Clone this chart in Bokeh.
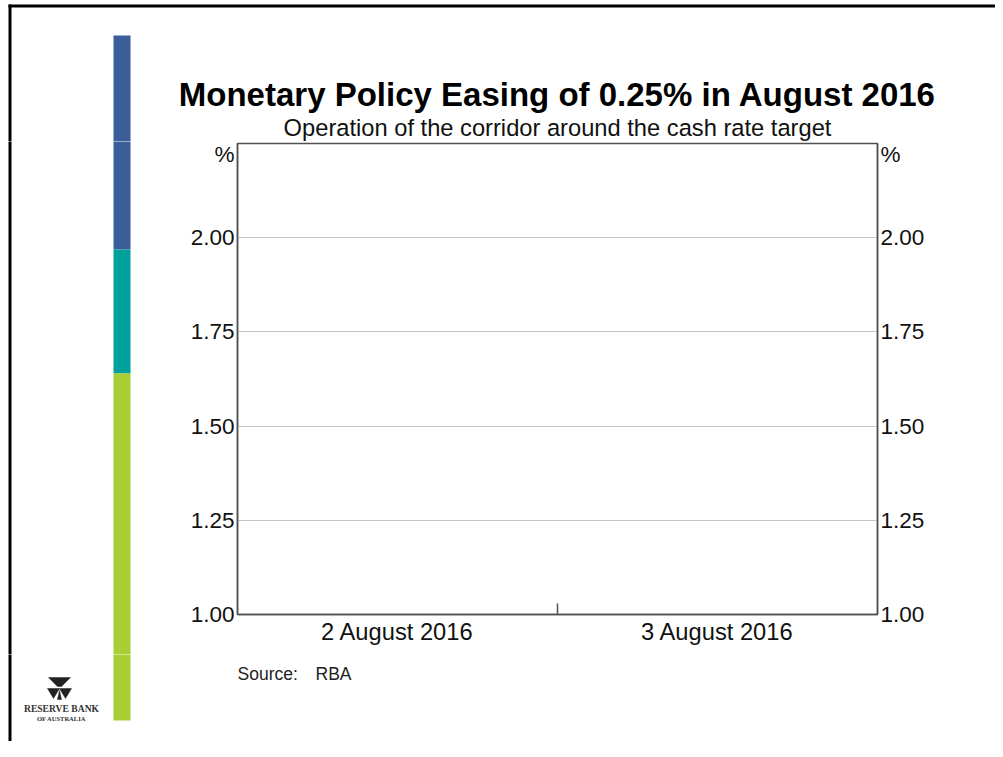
from bokeh.plotting import figure
from bokeh.layouts import column, row
from bokeh.models import Range1d, FixedTicker, LinearAxis, Label, BoxAnnotation
from bokeh.embed import file_html
from bokeh.resources import INLINE

# ---- data ----
categories = ["2 August 2016", "3 August 2016"]
y_ticks = [1.00, 1.25, 1.50, 1.75, 2.00]
y_tick_labels = ["1.00", "1.25", "1.50", "1.75", "2.00"]
y_min, y_max = 1.00, 2.25
unit_label = "%"
unit_label_pos = 2.22
title_text = "Monetary Policy Easing of 0.25% in August 2016"
subtitle_text = "Operation of the corridor around the cash rate target"
source_label = "Source:"
source_name = "RBA"

FONT = "Liberation Sans"
AXIS_COL = "#505050"
TXT_COL = "#111111"

# ---------------- page geometry (pixels) ----------------
PAGE_W = 995
TOP_H = 141
MID_H = 513
BOT_H = 87
LEFT_W = 150


def decor_fig(x0, y0, w, h):
    f = figure(width=w, height=h, output_backend="svg", toolbar_location=None,
               x_range=Range1d(x0, x0 + w), y_range=Range1d(y0 + h, y0),
               x_axis_location=None, y_axis_location=None, min_border=0)
    f.outline_line_color = None
    f.grid.visible = False
    f.background_fill_color = "white"
    f.border_fill_color = "white"
    return f


def add_box(f, l, r, t, b, col):
    f.add_layout(BoxAnnotation(left=l, right=r, top=t, bottom=b, fill_color=col,
                               fill_alpha=1.0, line_color=None, level="overlay"))


def add_label(f, x, y, text, size, align="left", bold=False, font=FONT, color=TXT_COL):
    f.add_layout(Label(x=x, y=y, text=text, text_font=font, text_font_size=size,
                       text_align=align, text_baseline="middle", text_color=color,
                       text_font_style="bold" if bold else "normal"))


def add_common_decor(f):
    # page frame lines
    add_box(f, 8, 1003, 4, 7, "black")
    add_box(f, 8, 11, 4, 760, "black")
    # vertical colour bar
    add_box(f, 113, 130, 35, 249, "#3B5E9B")
    add_box(f, 113, 130, 249, 373, "#00A19B")
    add_box(f, 113, 130, 373, 720, "#A7CF33")


# ---- top strip: title & subtitle ----
top = decor_fig(0, 0, PAGE_W, TOP_H)
add_common_decor(top)
add_label(top, 557, 94, title_text, "33px", align="center", bold=True, color="black")
add_label(top, 557, 127, subtitle_text, "23.7px", align="center")

# ---- left strip ----
left = decor_fig(0, TOP_H, LEFT_W, MID_H)
add_common_decor(left)

# ---- bottom strip: source & logo ----
bottom = decor_fig(0, TOP_H + MID_H, PAGE_W, BOT_H)
add_common_decor(bottom)
add_label(bottom, 237, 673, source_label, "17.5px", color="#222222")
add_label(bottom, 315, 673, source_name, "17.5px", color="#222222")
# logo mark
bottom.patches(xs=[[48, 70, 61, 57], [47, 53, 59], [71, 65, 59], [57, 61, 59]],
               ys=[[677, 677, 686, 686], [688, 698, 688], [688, 698, 688], [699, 699, 690]],
               fill_color="#222222", line_color="#222222", line_width=0.5)
add_label(bottom, 61, 708, "RESERVE BANK", "9.6px", align="center", font="Liberation Serif",
          color="#333333", bold=True)
add_label(bottom, 61, 718, "OF AUSTRALIA", "6.5px", align="center", font="Liberation Serif",
          color="#333333", bold=True)

# ---- main chart ----
p = figure(width=PAGE_W - LEFT_W, height=MID_H, output_backend="svg", toolbar_location=None,
           x_range=Range1d(0, len(categories)), y_range=Range1d(y_min, y_max),
           min_border_left=87, min_border_right=118, min_border_top=2,
           min_border_bottom=40)
p.outline_line_color = AXIS_COL
p.outline_line_width = 1.5
p.background_fill_color = "white"
p.border_fill_color = "white"

centres = [i + 0.5 for i in range(len(categories))]
xa = p.xaxis[0]
xa.ticker = FixedTicker(ticks=centres, minor_ticks=[float(i) for i in range(1, len(categories))])
xa.major_label_overrides = {c: lab for c, lab in zip(centres, categories)}
xa.major_tick_in = 0
xa.major_tick_out = 0
xa.minor_tick_in = 11
xa.minor_tick_out = 0
xa.minor_tick_line_color = AXIS_COL
xa.minor_tick_line_width = 1.5
xa.axis_line_color = AXIS_COL
xa.axis_line_width = 1.5
xa.major_label_text_font = FONT
xa.major_label_text_font_size = "23.7px"
xa.major_label_text_color = TXT_COL
xa.major_label_standoff = 4


def style_y(ax):
    ax.ticker = FixedTicker(ticks=y_ticks + [unit_label_pos])
    overrides = {t: l for t, l in zip(y_ticks, y_tick_labels)}
    overrides[unit_label_pos] = unit_label
    ax.major_label_overrides = overrides
    ax.major_tick_in = 0
    ax.major_tick_out = 0
    ax.minor_tick_in = 0
    ax.minor_tick_out = 0
    ax.axis_line_color = AXIS_COL
    ax.axis_line_width = 1.5
    ax.major_label_text_font = FONT
    ax.major_label_text_font_size = "22.5px"
    ax.major_label_text_color = TXT_COL
    ax.major_label_standoff = 3


style_y(p.yaxis[0])
ra = LinearAxis()
style_y(ra)
p.add_layout(ra, "right")

p.xgrid.visible = False
p.ygrid[0].ticker = FixedTicker(ticks=y_ticks)
p.ygrid.grid_line_color = "#c4c4c4"
p.ygrid.grid_line_width = 1

layout = column(top, row(column(left), p), bottom)
open("out.html", "w").write(file_html(layout, INLINE))
